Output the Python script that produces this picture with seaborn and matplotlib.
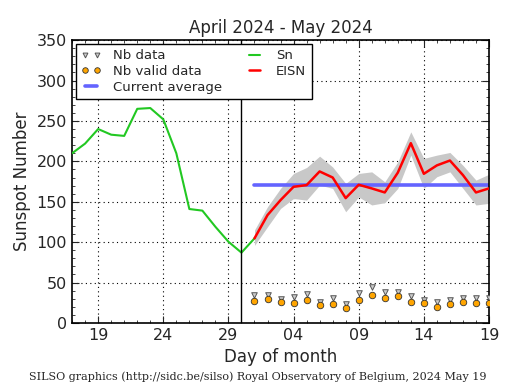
import numpy as np
import pandas as pd
import matplotlib
matplotlib.use("Agg")
import matplotlib.pyplot as plt
import matplotlib.dates as mdates
from matplotlib.lines import Line2D
import seaborn as sns

# ---- data ----
sn_dates = pd.date_range("2024-04-17", "2024-05-01", freq="D")
sn_values = [210, 222, 240, 233, 231.5, 265, 266, 252, 210, 141, 139, 119, 100.5, 87, 104.7]

eisn_dates = pd.date_range("2024-05-01", "2024-05-19", freq="D")
eisn_values = [104.7, 133.5, 152, 168.5, 170.6, 187.5, 180, 154.5, 171, 166.5, 161.5,
               186, 222.5, 184.6, 195, 201, 183, 161.5, 166.5]
eisn_upper = [115, 143.8, 166.5, 185, 192.4, 206.4, 193, 172.7, 185, 187, 174.7,
              199.4, 236.5, 203.6, 207.7, 211, 195, 176.8, 184]
eisn_lower = [96, 119, 141.7, 154, 152, 170.6, 166.5, 137.6, 156, 146, 148.8,
              166.5, 207.7, 166.5, 181, 187, 166.5, 146, 148]
nb_data = [34.6, 34.6, 30, 32.5, 35.5, 26.4, 31.3, 23.5, 37.5, 44.5, 38,
           38, 33, 28, 25.6, 28, 31.3, 31.3, 31.3]
nb_valid = [27, 29.7, 26, 24.7, 28.4, 22.6, 23.5, 19, 28.8, 34.9, 31.3,
            33.8, 26, 24.3, 20, 23.9, 26.4, 25, 25]
current_average = 170.5
avg_start, avg_end = "2024-05-01", "2024-05-19"
month_split = "2024-04-30"

title = "April 2024 - May 2024"
footer = "SILSO graphics (http://sidc.be/silso) Royal Observatory of Belgium, 2024 May 19"

# ---- style ----
sns.set_style("ticks")
plt.rcParams["font.family"] = ["DejaVu Sans"]

fig = plt.figure(figsize=(5.15, 3.9), dpi=100)
ax = fig.add_axes([0.140, 0.172, 0.8095, 0.725])

df_sn = pd.DataFrame({"date": sn_dates, "value": sn_values})
df_e = pd.DataFrame({"date": eisn_dates, "value": eisn_values,
                     "up": eisn_upper, "lo": eisn_lower,
                     "nb": nb_data, "nbv": nb_valid})
df_avg = pd.DataFrame({"date": pd.to_datetime([avg_start, avg_end]),
                       "value": [current_average, current_average]})

ax.fill_between(df_e["date"], df_e["lo"], df_e["up"], color="#c8c8c8", lw=0, zorder=1)
sns.lineplot(data=df_avg, x="date", y="value", ax=ax, color="#6464ff", lw=2.6, zorder=2)
sns.lineplot(data=df_sn, x="date", y="value", ax=ax, color="#22c822", lw=1.5, zorder=3)
sns.lineplot(data=df_e, x="date", y="value", ax=ax, color="red", lw=1.8, zorder=4)
sns.scatterplot(data=df_e, x="date", y="nb", ax=ax, marker="v", s=16,
                facecolor="#cccccc", edgecolor="#555555", linewidth=0.7, zorder=5)
sns.scatterplot(data=df_e, x="date", y="nbv", ax=ax, marker="o", s=22,
                color="orange", edgecolor="#333333", linewidth=0.6, zorder=6)
ax.axvline(pd.Timestamp(month_split), color="black", lw=1, zorder=4)

ax.set_xlim(pd.Timestamp("2024-04-17"), pd.Timestamp("2024-05-19"))
ax.set_ylim(0, 350)
ax.set_yticks(np.arange(0, 351, 50))
ax.yaxis.set_minor_locator(matplotlib.ticker.MultipleLocator(10))
ticks = pd.to_datetime(["2024-04-19", "2024-04-24", "2024-04-29", "2024-05-04",
                        "2024-05-09", "2024-05-14", "2024-05-19"])
ax.set_xticks(ticks)
ax.xaxis.set_major_formatter(mdates.DateFormatter("%d"))
ax.xaxis.set_minor_locator(mdates.DayLocator())
ax.tick_params(which="both", direction="in", top=True, right=True, labelsize=11.5)
ax.tick_params(which="major", length=5, width=0.8)
ax.tick_params(which="minor", length=2.5, width=0.6)
ax.grid(True, which="major", linestyle=(0, (1, 3)), color="black", lw=0.8)
for s in ax.spines.values():
    s.set_linewidth(1.2)
    s.set_color("black")

ax.set_xlabel("Day of month", fontsize=12)
ax.set_ylabel("Sunspot Number", fontsize=12)
ax.set_title(title, fontsize=12, pad=5)

handles = [
    Line2D([], [], ls="none", marker="v", ms=3.5, mfc="#cccccc", mec="#555555", mew=0.7),
    Line2D([], [], ls="none", marker="o", ms=4, mfc="orange", mec="#333333", mew=0.6),
    Line2D([], [], color="#6464ff", lw=2.6),
    Line2D([], [], color="#22c822", lw=1.5),
    Line2D([], [], color="red", lw=1.8),
]
labels = ["Nb data", "Nb valid data", "Current average", "Sn", "EISN"]
leg = ax.legend(handles, labels, loc="upper left", ncol=2, numpoints=2, fontsize=9.5,
                frameon=True, fancybox=False, borderaxespad=0.3, handlelength=1.5,
                handletextpad=0.9, labelspacing=0.2, columnspacing=1.7, borderpad=0.4)
leg.get_frame().set_edgecolor("black")
leg.get_frame().set_linewidth(1.0)
leg.get_frame().set_alpha(1)

fig.text(0.5, 0.02, footer, ha="center", va="bottom", fontsize=8, family="DejaVu Serif")

fig.savefig("out.png", dpi=100)
